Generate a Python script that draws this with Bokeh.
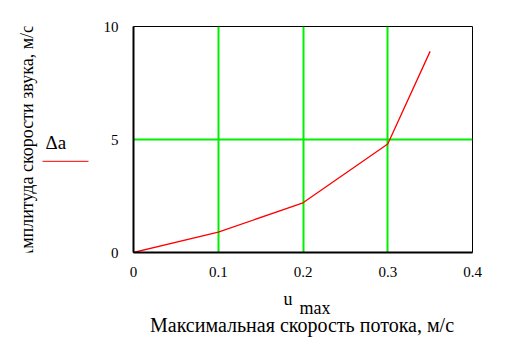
import math
from bokeh.plotting import figure
from bokeh.models import FixedTicker, Range1d
from bokeh.layouts import row, column
from bokeh.core.properties import value
from bokeh.embed import file_html
from bokeh.resources import INLINE

# data
u_max = [0.0, 0.1, 0.2, 0.3, 0.35]
delta_a = [0.0, 0.9, 2.2, 4.8, 8.9]
x_ticks = [0, 0.1, 0.2, 0.3, 0.4]
y_ticks = [0, 5, 10]
x_symbol = "u"
x_subscript = "max"
x_label = "Максимальная скорость потока, м/с"
y_label = "Амплитуда скорости звука, м/с"
legend_text = "Δa"

FONT = "Liberation Serif"


def text_panel(w, h):
    f = figure(width=w, height=h, output_backend="svg", toolbar_location=None,
               title=None,
               x_range=Range1d(0, w), y_range=Range1d(h, 0),
               x_axis_location=None, y_axis_location=None,
               min_border=0, outline_line_color=None)
    f.grid.visible = False
    f.background_fill_color = "white"
    f.border_fill_color = "white"
    return f


# main plot
p = figure(width=408, height=290, output_backend="svg", toolbar_location=None,
           x_range=Range1d(0, 0.4), y_range=Range1d(0, 10),
           min_border_left=32, min_border_right=36,
           min_border_top=26, min_border_bottom=38)
p.background_fill_color = "white"
p.border_fill_color = "white"
p.outline_line_color = "black"
p.outline_line_width = 1

for ax in (p.xaxis[0], p.yaxis[0]):
    ax.axis_line_color = "black"
    ax.axis_line_width = 2
    ax.major_tick_line_color = None
    ax.minor_tick_line_color = None
    ax.major_label_text_font = FONT
    ax.major_label_text_font_size = "15px"
    ax.major_label_text_color = "black"

p.xaxis.ticker = FixedTicker(ticks=x_ticks)
p.yaxis.ticker = FixedTicker(ticks=y_ticks)
p.xaxis.major_label_overrides = {0: "0"}
p.xaxis.major_label_standoff = 8
p.yaxis.major_label_standoff = 9

p.grid.grid_line_color = "#00ee00"
p.grid.grid_line_width = 2

p.line(u_max, delta_a, line_color="red", line_width=1.3)

# left panel: y-axis title and legend
left = text_panel(100, 290)
left.text(x=[26], y=[150], text=[y_label], angle=math.pi / 2,
          text_font=value(FONT), text_font_size="18px", text_color="black",
          text_align="center", text_baseline="alphabetic")
left.text(x=[45], y=[149], text=[legend_text],
          text_font=value(FONT), text_font_size="19px", text_color="black",
          text_align="left", text_baseline="alphabetic")
left.line(x=[42, 88], y=[173, 173], line_color="red", line_width=1)

# bottom panel: x-axis title
bottom = text_panel(508, 51)
bottom.text(x=[283], y=[8], text=[x_symbol],
            text_font=value(FONT), text_font_size="18px", text_color="black",
            text_align="left", text_baseline="alphabetic")
bottom.text(x=[299], y=[17], text=[x_subscript],
            text_font=value(FONT), text_font_size="18px", text_color="black",
            text_align="left", text_baseline="alphabetic")
bottom.text(x=[301.5], y=[34], text=[x_label],
            text_font=value(FONT), text_font_size="20px", text_color="black",
            text_align="center", text_baseline="alphabetic")

layout = column(row(left, p, spacing=0), bottom, spacing=0)

open("out.html", "w").write(file_html(layout, INLINE))
